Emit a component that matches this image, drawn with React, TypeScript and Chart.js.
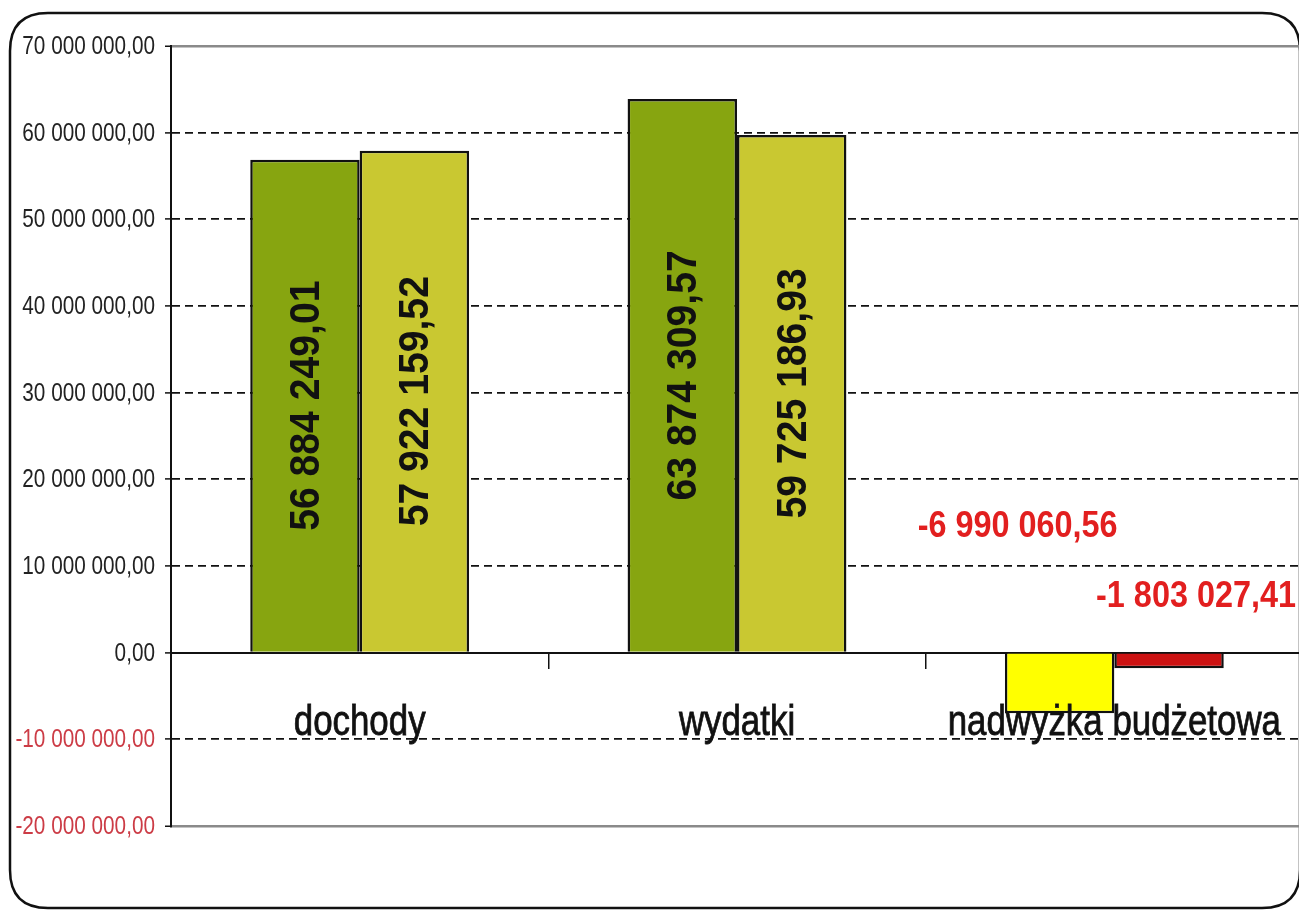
import React, { useEffect, useRef } from "react";
import { Chart, registerables } from "chart.js";

Chart.register(...registerables);

const categories = ["dochody", "wydatki", "nadwyżka budżetowa"];
const seriesA = [56884249.01, 63874309.57, -6990060.56];
const seriesB = [57922159.52, 59725186.93, -1803027.41];
const colorsA = ["#87a510", "#87a510", "#ffff00"];
const colorsB = ["#c9c831", "#c9c831", "#cc1212"];
const yMin = -20000000;
const yMax = 70000000;
const yStep = 10000000;

const FONT = "'Liberation Sans', Arial, sans-serif";

function fmt(v: number): string {
  const neg = v < 0;
  const s = Math.abs(v).toFixed(2);
  const [i, d] = s.split(".");
  const g = i.replace(/\B(?=(\d{3})+(?!\d))/g, " ");
  return (neg ? "-" : "") + g + "," + d;
}

function narrowText(
  ctx: CanvasRenderingContext2D,
  txt: string,
  x: number,
  y: number,
  font: string,
  color: string,
  align: CanvasTextAlign,
  baseline: CanvasTextBaseline,
  squeeze: number,
  rotate = 0,
  stroke = 0
) {
  ctx.save();
  ctx.translate(x, y);
  if (rotate) ctx.rotate(rotate);
  ctx.scale(squeeze, 1);
  ctx.font = font;
  ctx.fillStyle = color;
  ctx.textAlign = align;
  ctx.textBaseline = baseline;
  ctx.fillText(txt, 0, 0);
  if (stroke) {
    ctx.lineWidth = stroke;
    ctx.strokeStyle = color;
    ctx.strokeText(txt, 0, 0);
  }
  ctx.restore();
}

const framePlugin = {
  id: "frame",
  beforeDraw(chart: any) {
    const ctx = chart.ctx;
    ctx.save();
    ctx.fillStyle = "#ffffff";
    ctx.fillRect(0, 0, chart.width, chart.height);
    const x = 10, y = 13, w = 1290, h = 895, r = 38;
    ctx.beginPath();
    ctx.moveTo(x + r, y);
    ctx.lineTo(x + w - r, y);
    ctx.quadraticCurveTo(x + w, y, x + w, y + r);
    ctx.lineTo(x + w, y + h - r);
    ctx.quadraticCurveTo(x + w, y + h, x + w - r, y + h);
    ctx.lineTo(x + r, y + h);
    ctx.quadraticCurveTo(x, y + h, x, y + h - r);
    ctx.lineTo(x, y + r);
    ctx.quadraticCurveTo(x, y, x + r, y);
    ctx.closePath();
    ctx.lineWidth = 2.5;
    ctx.strokeStyle = "#111";
    ctx.stroke();
    ctx.restore();
  },
};

const axisTextPlugin = {
  id: "axisText",
  afterDraw(chart: any) {
    const ctx = chart.ctx;
    const ys = chart.scales.y;
    const xs = chart.scales.x;
    const zeroY = ys.getPixelForValue(0);
    ys.ticks.forEach((t: any) => {
      const py = ys.getPixelForValue(t.value);
      narrowText(
        ctx,
        fmt(t.value),
        155,
        py + 1,
        `25px ${FONT}`,
        t.value < 0 ? "#cc3c46" : "#222",
        "right",
        "middle",
        0.83
      );
    });
    categories.forEach((c, i) => {
      const px = xs.getPixelForValue(i);
      narrowText(ctx, c, px, zeroY + 82, `42px ${FONT}`, "#111", "center", "alphabetic", 0.83, 0, 0.8);
    });
  },
};

const labelPlugin = {
  id: "barLabels",
  afterDatasetsDraw(chart: any) {
    const ctx = chart.ctx;
    const zeroY = chart.scales.y.getPixelForValue(0);
    const negOffsets = [
      [-42, -126],
      [27, -56],
    ];
    chart.data.datasets.forEach((ds: any, di: number) => {
      const meta = chart.getDatasetMeta(di);
      meta.data.forEach((bar: any, i: number) => {
        const v = ds.data[i];
        const txt = fmt(v);
        if (v >= 0) {
          narrowText(
            ctx,
            txt,
            bar.x + 2,
            (bar.y + bar.base) / 2,
            `bold 43px ${FONT}`,
            "#111",
            "center",
            "middle",
            0.91,
            -Math.PI / 2
          );
        } else {
          const off = negOffsets[di];
          narrowText(
            ctx,
            txt,
            bar.x + off[0],
            zeroY + off[1],
            `bold 36px ${FONT}`,
            "#e21f1f",
            "center",
            "middle",
            0.9
          );
        }
      });
    });
  },
};

export default function App() {
  const ref = useRef<HTMLCanvasElement | null>(null);
  useEffect(() => {
    if (!ref.current) return;
    const chart = new Chart(ref.current, {
      type: "bar",
      data: {
        labels: categories,
        datasets: [
          {
            label: "A",
            data: seriesA,
            backgroundColor: colorsA,
            borderColor: "#111",
            borderWidth: 2.5,
            categoryPercentage: 0.58,
            barPercentage: 1,
          },
          {
            label: "B",
            data: seriesB,
            backgroundColor: colorsB,
            borderColor: "#111",
            borderWidth: 2.5,
            categoryPercentage: 0.58,
            barPercentage: 1,
          },
        ],
      },
      options: {
        animation: false,
        responsive: false,
        devicePixelRatio: 1,
        layout: { padding: { left: 0, top: 46, right: 7, bottom: 86 } },
        plugins: { legend: { display: false }, tooltip: { enabled: false } },
        scales: {
          x: {
            type: "category",
            position: { y: 0 } as any,
            offset: true,
            afterFit(scale: any) {
              scale.paddingLeft = 0;
              scale.paddingRight = 0;
            },
            grid: {
              offset: true,
              drawOnChartArea: false,
              drawTicks: true,
              tickLength: 15,
              color: "#111",
              lineWidth: 1.5,
            },
            border: { display: true, color: "#111", width: 2 },
            ticks: { display: false, autoSkip: false },
          },
          y: {
            min: yMin,
            max: yMax,
            afterFit(scale: any) {
              scale.width = 171;
              scale.paddingTop = 0;
              scale.paddingBottom = 0;
            },
            grid: {
              color: (c: any) =>
                c.tick && (c.tick.value === yMax || c.tick.value === yMin) ? "#8a8a8a" : "#111",
              lineWidth: (c: any) =>
                c.tick && (c.tick.value === yMax || c.tick.value === yMin) ? 2.5 : 1.8,
              tickColor: "#111",
              tickLength: 6,
              tickWidth: 1.5,
            },
            border: {
              display: true,
              color: "#111",
              width: 2,
              dash: (c: any) =>
                c.tick && (c.tick.value === yMax || c.tick.value === yMin) ? [] : [8, 5],
            } as any,
            ticks: {
              display: false,
              stepSize: yStep,
            },
          },
        },
      },
      plugins: [framePlugin, axisTextPlugin, labelPlugin],
    });
    return () => chart.destroy();
  }, []);
  return (
    <div
      style={{
        position: "absolute",
        left: 0,
        top: 0,
        width: 1299,
        height: 912,
        overflow: "hidden",
        background: "#fff",
      }}
    >
      <canvas
        ref={ref}
        width={1310}
        height={912}
        style={{ width: "1310px", height: "912px", display: "block" }}
      />
    </div>
  );
}
